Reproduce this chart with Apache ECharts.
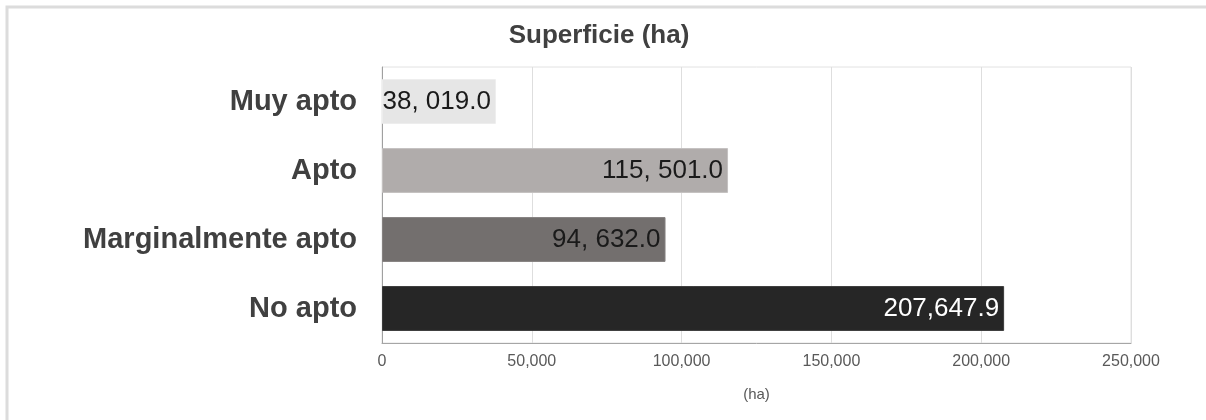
<!DOCTYPE html>
<html>
<head>
<meta charset="utf-8">
<style>
  html, body { margin: 0; padding: 0; background: #ffffff; }
  #chart { width: 1206px; height: 420px; }
</style>
<script src="https://cdn.jsdelivr.net/npm/echarts@6/dist/echarts.min.js"></script>
</head>
<body>
<div id="chart"></div>
<script>
// Superficie por clase de aptitud (ha)
const categories = ['Muy apto', 'Apto', 'Marginalmente apto', 'No apto'];
const superficie = [38019.0, 115501.0, 94632.0, 207647.9];
const valueLabels = ['38, 019.0', '115, 501.0', '94, 632.0', '207,647.9'];
const xTicks = [0, 50000, 100000, 150000, 200000, 250000];

const barColors = ['#e6e6e6', '#b0acab', '#736f6e', '#262626'];
const barBorders = ['#ededed', '#c4c1c0', '#858180', '#3a3a3a'];
const labelColors = ['#1a1a1a', '#1a1a1a', '#1a1a1a', '#ffffff'];

const sans = '"Liberation Sans", Arial, sans-serif';

const chart = echarts.init(document.getElementById('chart'));

chart.setOption({
  animation: false,
  backgroundColor: '#ffffff',
  graphic: [{
    type: 'rect',
    shape: { x: 7, y: 7, width: 1220, height: 430 },
    style: { fill: 'none', stroke: '#dcdcdc', lineWidth: 3 },
    silent: true
  }],
  title: {
    text: 'Superficie (ha)',
    left: 594,
    top: 18,
    textAlign: 'center',
    textStyle: { fontFamily: sans, fontWeight: 'bold', fontSize: 26, color: '#404040' }
  },
  grid: {
    left: 382, right: 75, top: 67, bottom: 77,
    show: true,
    borderColor: '#e2e2e2',
    borderWidth: 1
  },
  xAxis: {
    type: 'value',
    min: xTicks[0],
    max: xTicks[xTicks.length - 1],
    interval: xTicks[1] - xTicks[0],
    name: '(ha)',
    nameLocation: 'middle',
    nameGap: 44,
    nameTextStyle: { fontFamily: sans, fontSize: 15, color: '#595959' },
    axisLine: { show: true, lineStyle: { color: '#a6a6a6', width: 1 } },
    axisTick: { show: false },
    axisLabel: {
      margin: 11,
      fontFamily: sans, fontSize: 16, color: '#595959',
      formatter: v => v.toLocaleString('en-US')
    },
    splitLine: { show: true, lineStyle: { color: '#dedede', width: 1 } }
  },
  yAxis: {
    type: 'category',
    inverse: true,
    data: categories,
    axisLine: { show: true, lineStyle: { color: '#a0a0a0', width: 1 } },
    axisTick: { show: false },
    axisLabel: {
      margin: 25,
      fontFamily: sans, fontWeight: 'bold', fontSize: 29, color: '#404040'
    },
    splitLine: { show: false }
  },
  series: [{
    type: 'bar',
    barCategoryGap: '35%',
    data: superficie.map((v, i) => ({
      value: v,
      itemStyle: { color: barColors[i], borderColor: barBorders[i], borderWidth: 1 },
      label: { color: labelColors[i] }
    })),
    label: {
      show: true,
      position: 'insideRight',
      distance: 5,
      fontFamily: sans,
      fontSize: 26,
      formatter: p => valueLabels[p.dataIndex]
    }
  }]
});
</script>
</body>
</html>
